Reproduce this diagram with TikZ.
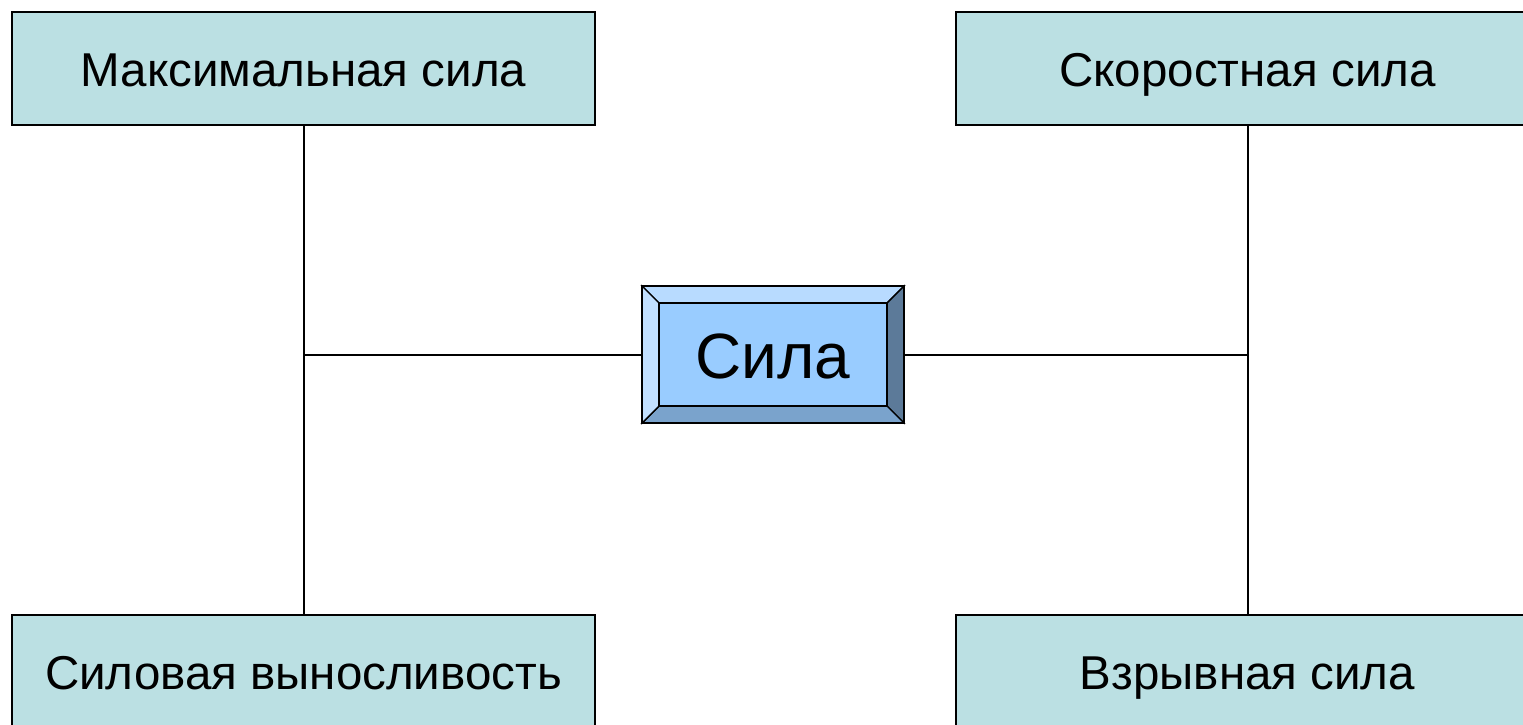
\documentclass[tikz,border=0pt]{standalone}
\usepackage{fontspec}
\setmainfont{Liberation Sans}
\definecolor{boxfill}{HTML}{BBE0E3}
\definecolor{facefill}{HTML}{99CCFF}
\definecolor{bevtop}{HTML}{B8DBFF}
\definecolor{bevleft}{HTML}{C2E0FF}
\definecolor{bevright}{HTML}{5C7A99}
\definecolor{bevbot}{HTML}{7AA3CC}
\tikzset{
  catbox/.style={draw=black, line width=2pt, fill=boxfill, minimum width=583pt, minimum height=113pt, inner sep=0pt, text height=35pt, text depth=0pt, font=\fontsize{47.5}{56}\selectfont},
  link/.style={draw=black, line width=2pt},
  bevel/.style={draw=black, line width=1.4pt, line join=miter},
}
\begin{document}
\begin{tikzpicture}[x=1pt,y=-1pt]
\useasboundingbox (0,0) rectangle (1523,725);
\clip (0,0) rectangle (1523,725);
\fill[white] (0,0) rectangle (1523,725);
% category boxes
\node[catbox] (tl) at (303.5,68.5) {Максимальная сила};
\node[catbox] (tr) at (1247.5,68.5) {Скоростная сила};
\node[catbox] (bl) at (303.5,671.5) {Силовая выносливость};
\node[catbox] (br) at (1247.5,671.5) {Взрывная сила};
% central bevelled box
\node[minimum width=262pt, minimum height=137pt, inner sep=0pt] (sila) at (773,354.5) {};
\coordinate (o1) at (642,286); \coordinate (o2) at (904,286);
\coordinate (o3) at (904,423); \coordinate (o4) at (642,423);
\coordinate (i1) at (659,303); \coordinate (i2) at (887,303);
\coordinate (i3) at (887,406); \coordinate (i4) at (659,406);
\filldraw[bevel, fill=bevtop] (o1) -- (o2) -- (i2) -- (i1) -- cycle;
\filldraw[bevel, fill=bevright] (o2) -- (o3) -- (i3) -- (i2) -- cycle;
\filldraw[bevel, fill=bevbot] (o3) -- (o4) -- (i4) -- (i3) -- cycle;
\filldraw[bevel, fill=bevleft] (o4) -- (o1) -- (i1) -- (i4) -- cycle;
\filldraw[bevel, fill=facefill] (i1) rectangle (i3);
\draw[draw=black, line width=2pt] (o1) rectangle (o3);
\node[font=\fontsize{64}{76}\selectfont, inner sep=0pt, text height=47pt, text depth=0pt] (silatext) at (sila.center) {Сила};
% connectors
\coordinate (jl) at (tl.south |- sila.west);
\coordinate (jr) at (tr.south |- sila.east);
\draw[link] (tl.south) -- (bl.north);
\draw[link] (tr.south) -- (br.north);
\draw[link] (jl) -- (sila.west);
\draw[link] (sila.east) -- (jr);
\end{tikzpicture}
\end{document}
